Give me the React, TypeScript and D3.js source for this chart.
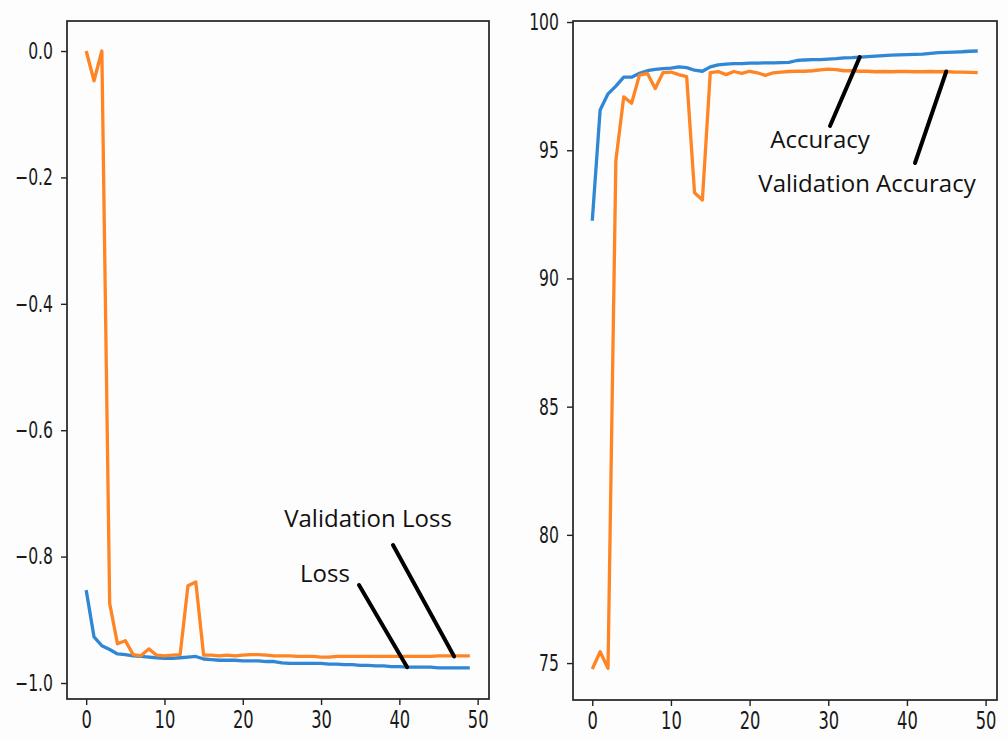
import React, { useEffect, useRef } from 'react';
import * as d3 from 'd3';

// training history (50 epochs)
const epochs = d3.range(50);

const loss = [
  -0.853, -0.927, -0.941, -0.947, -0.954, -0.955, -0.957, -0.958, -0.959, -0.96,
  -0.961, -0.961, -0.96, -0.959, -0.958, -0.962, -0.963, -0.964, -0.964, -0.964,
  -0.965, -0.965, -0.965, -0.966, -0.966, -0.968, -0.969, -0.969, -0.969, -0.969,
  -0.969, -0.97, -0.97, -0.971, -0.971, -0.972, -0.972, -0.973, -0.973, -0.974,
  -0.974, -0.975, -0.975, -0.975, -0.975, -0.976, -0.976, -0.976, -0.976, -0.976,
];

const valLoss = [
  0.0, -0.047, 0.0, -0.874, -0.938, -0.933, -0.955, -0.957, -0.946, -0.956,
  -0.957, -0.956, -0.955, -0.846, -0.84, -0.956, -0.956, -0.957, -0.956, -0.957,
  -0.956, -0.955, -0.955, -0.956, -0.957, -0.957, -0.957, -0.958, -0.958, -0.958,
  -0.959, -0.959, -0.958, -0.958, -0.958, -0.958, -0.958, -0.958, -0.958, -0.958,
  -0.958, -0.958, -0.958, -0.958, -0.958, -0.957, -0.957, -0.957, -0.957, -0.957,
];

const accuracy = [
  92.25, 96.57, 97.2, 97.5, 97.85, 97.85, 98.0, 98.1, 98.15, 98.18,
  98.2, 98.25, 98.22, 98.12, 98.08, 98.25, 98.33, 98.36, 98.38, 98.38,
  98.4, 98.4, 98.41, 98.41, 98.42, 98.43, 98.5, 98.52, 98.53, 98.53,
  98.55, 98.57, 98.6, 98.61, 98.63, 98.65, 98.67, 98.69, 98.71, 98.72,
  98.73, 98.74, 98.75, 98.78, 98.81, 98.82, 98.83, 98.84, 98.86, 98.87,
];

const valAccuracy = [
  74.77, 75.44, 74.8, 94.6, 97.08, 96.83, 97.93, 98.0, 97.41, 98.03,
  98.05, 97.95, 97.87, 93.34, 93.06, 98.03, 98.07, 97.95, 98.07, 98.0,
  98.08, 98.02, 97.92, 98.02, 98.05, 98.07, 98.08, 98.08, 98.1, 98.13,
  98.16, 98.14, 98.1, 98.1, 98.08, 98.08, 98.06, 98.07, 98.06, 98.07,
  98.07, 98.06, 98.06, 98.07, 98.06, 98.07, 98.05, 98.05, 98.04, 98.03,
];

const xTicks = [0, 10, 20, 30, 40, 50];
const lossTicks = [0, -0.2, -0.4, -0.6, -0.8, -1.0];
const accTicks = [75, 80, 85, 90, 95, 100];

const BLUE = '#2f87d5';
const ORANGE = '#ff8424';
const TICK_FONT = '"DejaVu Sans", sans-serif';
const NOTE_FONT = '"Open Sans", "Noto Sans", sans-serif';
const SQUEEZE = 0.68;

const App = () => {
  const ref = useRef<SVGSVGElement>(null);

  useEffect(() => {
    const svg = d3.select(ref.current);
    svg.selectAll('*').remove();

    const panel = (opts) => {
      const { left, right, top, bottom, yDomain, yTicks, yFormat, series, notes } = opts;
      const x = d3.scaleLinear().domain([-2.45, 51.45]).range([left, right]);
      const y = d3.scaleLinear().domain(yDomain).range([bottom, top]);
      const g = svg.append('g');

      const line = d3.line<number>().x((d, i) => x(epochs[i])).y(d => y(d));
      series.forEach(s => {
        g.append('path')
          .datum(s.values)
          .attr('d', line)
          .attr('fill', 'none')
          .attr('stroke', s.color)
          .attr('stroke-width', 3.3)
          .attr('stroke-linejoin', 'round');
      });

      // frame
      g.append('rect')
        .attr('x', left).attr('y', top)
        .attr('width', right - left).attr('height', bottom - top)
        .attr('fill', 'none').attr('stroke', '#222').attr('stroke-width', 1.7);

      const yAxis = g.append('g')
        .attr('transform', `translate(${left},0)`)
        .call(d3.axisLeft(y).tickValues(yTicks).tickFormat(yFormat).tickSize(6).tickPadding(9));
      const xAxis = g.append('g')
        .attr('transform', `translate(0,${bottom})`)
        .call(d3.axisBottom(x).tickValues(xTicks).tickFormat(d3.format('d')).tickSize(6).tickPadding(6));

      [yAxis, xAxis].forEach(a => {
        a.select('.domain').remove();
        a.selectAll('line').attr('stroke', '#222').attr('stroke-width', 1.4);
        a.selectAll('text')
          .attr('fill', '#1a1a1a')
          .attr('font-family', TICK_FONT);
      });
      yAxis.selectAll('text')
        .attr('font-size', 23)
        .attr('x', -14 / SQUEEZE)
        .attr('transform', `scale(${SQUEEZE},1)`);
      xAxis.selectAll('text')
        .attr('font-size', 24)
        .attr('transform', `scale(${SQUEEZE},1)`);

      // annotations: text label + black pointer line onto the curve
      notes.forEach(n => {
        g.append('text')
          .attr('x', n.tx).attr('y', n.ty)
          .attr('text-anchor', 'middle')
          .attr('font-family', NOTE_FONT)
          .attr('font-size', 24)
          .attr('fill', '#111')
          .text(n.label);
        g.append('line')
          .attr('x1', n.x1).attr('y1', n.y1)
          .attr('x2', x(n.epoch)).attr('y2', y(n.value))
          .attr('stroke', '#000').attr('stroke-width', 4).attr('stroke-linecap', 'round');
      });
    };

    panel({
      left: 67, right: 489, top: 21, bottom: 699,
      yDomain: [-1.0253, 0.0475],
      yTicks: lossTicks,
      yFormat: d3.format('.1f'),
      series: [
        { values: loss, color: BLUE },
        { values: valLoss, color: ORANGE },
      ],
      notes: [
        { label: 'Validation Loss', tx: 368, ty: 527, x1: 393, y1: 545, epoch: 47, value: -0.958 },
        { label: 'Loss', tx: 325, ty: 582, x1: 359, y1: 585, epoch: 41, value: -0.975 },
      ],
    });

    panel({
      left: 573, right: 997, top: 21, bottom: 700,
      yDomain: [73.56, 100.04],
      yTicks: accTicks,
      yFormat: d3.format('d'),
      series: [
        { values: accuracy, color: BLUE },
        { values: valAccuracy, color: ORANGE },
      ],
      notes: [
        { label: 'Accuracy', tx: 820, ty: 148, x1: 830, y1: 126, epoch: 34, value: 98.63 },
        { label: 'Validation Accuracy', tx: 867, ty: 192, x1: 915, y1: 163, epoch: 45, value: 98.07 },
      ],
    });
  }, []);

  return (
    <svg
      ref={ref}
      width={1008}
      height={740}
      style={{ position: 'absolute', left: 0, top: 0, display: 'block', background: '#fdfdfd' }}
    />
  );
};

export default App;
